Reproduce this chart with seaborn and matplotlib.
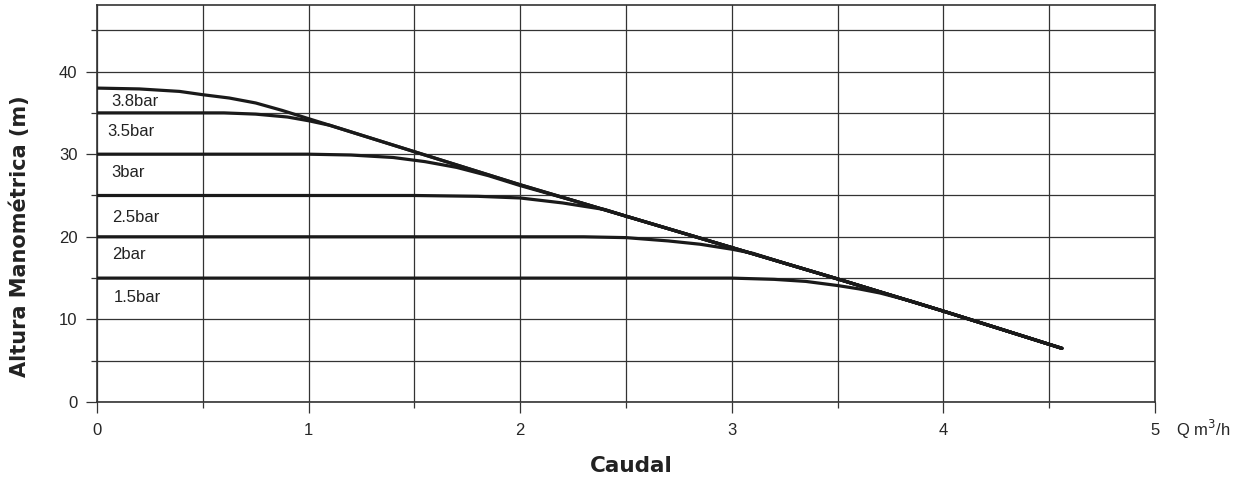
import pandas as pd
import matplotlib.pyplot as plt
import seaborn as sns
from matplotlib.ticker import MultipleLocator

# envelope of the pump (3.8 bar curve)
q_38 = [0, 0.2, 0.39, 0.5, 0.625, 0.75, 0.875, 1.0, 1.125, 1.25, 1.5, 1.75, 2.0, 2.25, 2.5, 2.75, 3.0, 3.25, 3.5, 3.75, 4.0, 4.25, 4.56]
h_38 = [38, 37.9, 37.6, 37.2, 36.8, 36.2, 35.3, 34.3, 33.3, 32.3, 30.3, 28.3, 26.3, 24.4, 22.5, 20.6, 18.7, 16.8, 14.9, 12.95, 11.0, 9.0, 6.5]

q_35 = [0, 0.6, 0.75, 0.9, 1.0, 1.1, 1.25, 1.5, 1.75, 2.0, 2.25, 2.5, 2.75, 3.0, 3.25, 3.5, 3.75, 4.0, 4.25, 4.56]
h_35 = [35, 35, 34.85, 34.5, 34.05, 33.5, 32.3, 30.3, 28.3, 26.3, 24.4, 22.5, 20.6, 18.7, 16.8, 14.9, 12.95, 11.0, 9.0, 6.5]

q_30 = [0, 1.0, 1.2, 1.4, 1.55, 1.7, 1.85, 2.0, 2.25, 2.5, 2.75, 3.0, 3.25, 3.5, 3.75, 4.0, 4.25, 4.56]
h_30 = [30, 30, 29.9, 29.6, 29.1, 28.4, 27.4, 26.2, 24.4, 22.5, 20.6, 18.7, 16.8, 14.9, 12.95, 11.0, 9.0, 6.5]

q_25 = [0, 1.5, 1.8, 2.0, 2.2, 2.4, 2.5, 2.75, 3.0, 3.25, 3.5, 3.75, 4.0, 4.25, 4.56]
h_25 = [25, 25, 24.9, 24.7, 24.1, 23.3, 22.5, 20.6, 18.7, 16.8, 14.9, 12.95, 11.0, 9.0, 6.5]

q_20 = [0, 2.3, 2.5, 2.7, 2.85, 3.0, 3.1, 3.25, 3.5, 3.75, 4.0, 4.25, 4.56]
h_20 = [20, 20, 19.9, 19.5, 19.1, 18.5, 18.0, 16.8, 14.9, 12.95, 11.0, 9.0, 6.5]

q_15 = [0, 3.0, 3.2, 3.35, 3.5, 3.6, 3.7, 3.85, 4.0, 4.25, 4.56]
h_15 = [15, 15, 14.85, 14.6, 14.1, 13.7, 13.2, 12.2, 11.0, 9.0, 6.5]

labels = ["3.8bar", "3.5bar", "3bar", "2.5bar", "2bar", "1.5bar"]
label_x = [0.07, 0.05, 0.07, 0.07, 0.07, 0.08]
label_y = [36.4, 32.7, 27.8, 22.3, 17.8, 12.7]

curves = [(q_38, h_38), (q_35, h_35), (q_30, h_30), (q_25, h_25), (q_20, h_20), (q_15, h_15)]

sns.set_style("white")
plt.rcParams['font.family'] = ['Liberation Sans', 'DejaVu Sans']

fig = plt.figure(figsize=(12.58, 4.86), dpi=100)
ax = fig.add_axes([0.0771, 0.1728, 0.8410, 0.8159])

for (q, h), name in zip(curves, labels):
    df = pd.DataFrame({'Q': q, 'H': h})
    sns.lineplot(data=df, x='Q', y='H', ax=ax, color='#1a1a1a', linewidth=2.3,
                 sort=False, estimator=None, zorder=3)

for x, y, t in zip(label_x, label_y, labels):
    ax.text(x, y, t, fontsize=12, va='center', ha='left', color='#222222')

ax.set_xlim(0, 5)
ax.set_ylim(0, 48)
ax.xaxis.set_major_locator(MultipleLocator(1))
ax.xaxis.set_minor_locator(MultipleLocator(0.5))
ax.yaxis.set_major_locator(MultipleLocator(10))
ax.yaxis.set_minor_locator(MultipleLocator(5))
ax.grid(which='both', color='#333333', linewidth=0.9)
ax.tick_params(which='major', length=8, width=0.9, color='#333333', labelsize=12, pad=6)
ax.tick_params(which='minor', length=4.5, width=0.9, color='#333333')
ax.tick_params(axis='x', pad=7)
ax.tick_params(bottom=True, left=True, which='both')

for s in ['left', 'right', 'top', 'bottom']:
    ax.spines[s].set_visible(True)
    ax.spines[s].set_color('#333333')
    ax.spines[s].set_linewidth(1.2)

ax.set_xlabel('Caudal', fontsize=15.5, fontweight='bold', family='DejaVu Sans', color='#222222')
ax.set_ylabel('Altura Manométrica (m)', fontsize=15, fontweight='bold', family='DejaVu Sans', color='#222222')
ax.xaxis.set_label_coords(0.505, -0.135)
ax.yaxis.set_label_coords(-0.063, 0.418)
ax.text(1.02, -0.07, 'Q m$^3$/h', transform=ax.transAxes, fontsize=12, ha='left', va='center')

fig.savefig('out.png', dpi=100)
